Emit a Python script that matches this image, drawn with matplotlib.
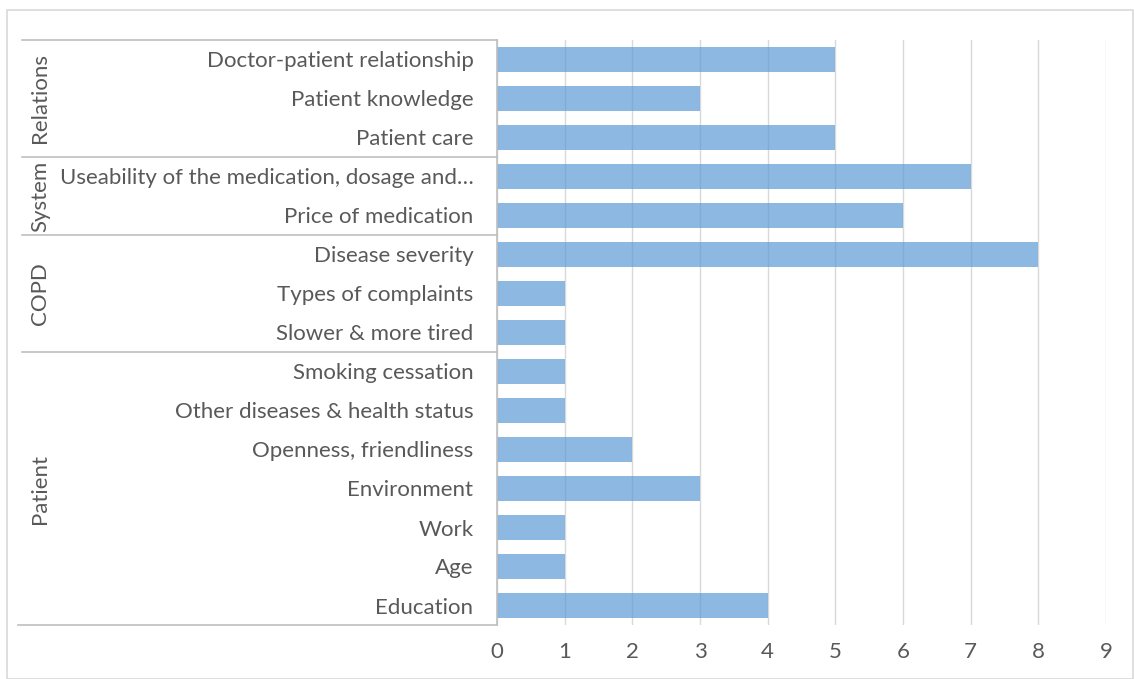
import numpy as np
import matplotlib
matplotlib.use("Agg")
import matplotlib.pyplot as plt
from matplotlib.patches import Rectangle

# factors, top to bottom, with their group
factors = [
    "Doctor-patient relationship",
    "Patient knowledge",
    "Patient care",
    "Useability of the medication, dosage and\u2026",
    "Price of medication",
    "Disease severity",
    "Types of complaints",
    "Slower & more tired",
    "Smoking cessation",
    "Other diseases & health status",
    "Openness, friendliness",
    "Environment",
    "Work",
    "Age",
    "Education",
]
counts = [5, 3, 5, 7, 6, 8, 1, 1, 1, 1, 2, 3, 1, 1, 4]

groups = ["Relations", "System", "COPD", "Patient"]
group_sizes = [3, 2, 3, 7]

x_ticks = list(range(0, 10))

TEXT = "#595959"
LINE = "#BFBFBF"
GRID = "#D9D9D9"
FONT = "Lato"
FS = 16

W, H = 1134, 679
fig = plt.figure(figsize=(W / 100, H / 100), dpi=100)

# outer chart border
fig.patches.append(Rectangle((7 / W, 0), (W - 8) / W, (H - 10) / H,
                             transform=fig.transFigure, fill=False,
                             edgecolor=GRID, linewidth=1.2))

left, right, top, bottom = 497, 1106, 40, 625
ax = fig.add_axes([left / W, 1 - bottom / H, (right - left) / W, (bottom - top) / H])

y = np.arange(len(factors))
ax.barh(y, counts, height=0.66, color="#5B9BD5", alpha=0.7, zorder=2)

ax.set_xlim(0, 9)
ax.set_ylim(len(factors) - 0.5, -0.5)
ax.set_xticks(x_ticks)
ax.set_xticklabels([str(t) for t in x_ticks], fontsize=FS, color=TEXT, family=FONT)
ax.set_yticks(y)
ax.set_yticklabels(factors, fontsize=FS, color=TEXT, family=FONT)
ax.tick_params(axis="both", length=0)
ax.tick_params(axis="y", pad=17)
ax.tick_params(axis="x", pad=12)

ax.grid(axis="x", color=GRID, linewidth=1, zorder=1)
ax.set_axisbelow(True)
for s in ["top", "right", "bottom"]:
    ax.spines[s].set_visible(False)
ax.spines["left"].set_color(LINE)
ax.spines["left"].set_linewidth(1.2)
ax.spines["left"].set_zorder(3)

# group separators and rotated group names on the category axis
tr = ax.get_yaxis_transform()
x_line = (22 - left) / (right - left)
x_name = (40 - left) / (right - left)
start = 0
ax.plot([x_line, 0], [-0.5, -0.5], transform=tr, color=LINE, lw=1.2, clip_on=False)
for name, size in zip(groups, group_sizes):
    end = start + size
    ax.plot([x_line if end < len(factors) else (18 - left) / (right - left), 0],
            [end - 0.5, end - 0.5], transform=tr, color=LINE, lw=1.2, clip_on=False)
    ax.text(x_name, (start + end - 1) / 2, name, transform=tr, rotation=90,
            ha="center", va="center", fontsize=FS, color=TEXT, family=FONT)
    start = end

fig.savefig("out.png", dpi=100)
